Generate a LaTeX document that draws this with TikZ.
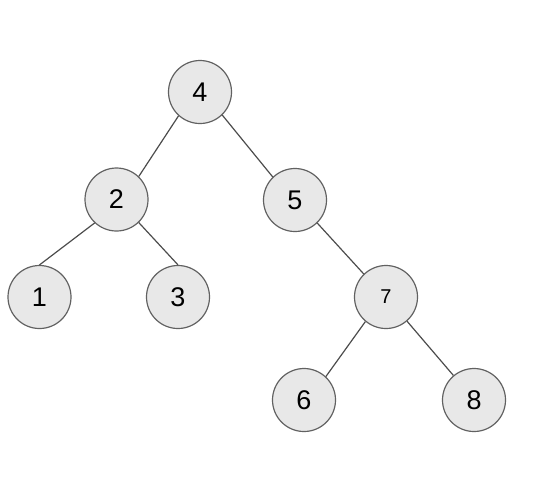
\documentclass[tikz,border=0pt]{standalone}
\usepackage{fontspec}
\setmainfont{Liberation Sans}
\begin{document}
\begin{tikzpicture}[x=1pt,y=-1pt,
  tnode/.style={circle,draw=black!62,fill=black!9,line width=1.2pt,minimum size=63pt,inner sep=0pt,font=\fontsize{27pt}{29pt}\selectfont},
  smalltext/.style={font=\fontsize{20pt}{22pt}\selectfont},
  edge/.style={draw=black!70,line width=1.2pt}]
\useasboundingbox (0,0) rectangle (548,483);
\node[tnode] (n4) at (200,92) {4};
\node[tnode] (n2) at (116.5,199.5) {2};
\node[tnode] (n5) at (295,200) {5};
\node[tnode] (n1) at (39.5,297) {1};
\node[tnode] (n3) at (178,297) {3};
\node[tnode,smalltext] (n7) at (386,297) {7};
\node[tnode] (n6) at (304,400) {6};
\node[tnode] (n8) at (474,400) {8};
\draw[edge] (n4.228) -- (n2.46);
\draw[edge] (n4.314) -- (n5.134);
\draw[edge] (n2.227) -- (n1.90);
\draw[edge] (n2.314) -- (n3.90);
\draw[edge] (n5.314) -- (n7.134);
\draw[edge] (n7.230) -- (n6.47);
\draw[edge] (n7.311) -- (n8.130);
\end{tikzpicture}
\end{document}
